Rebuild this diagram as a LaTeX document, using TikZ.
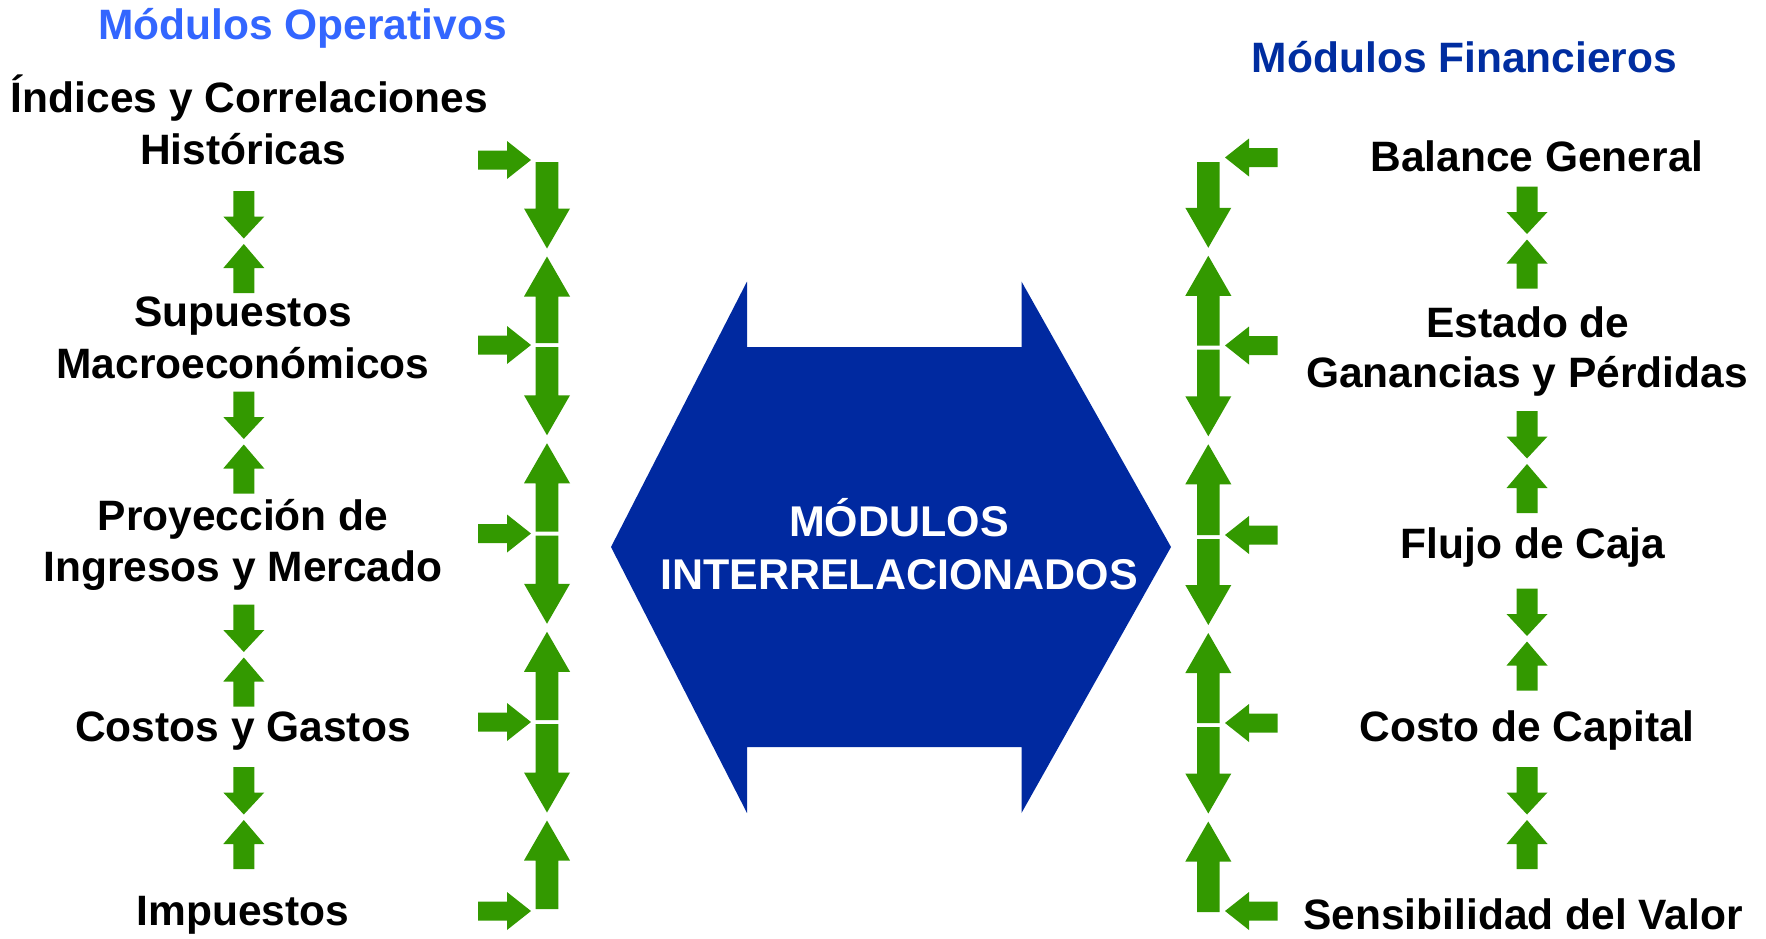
\documentclass[tikz,border=0pt]{standalone}
\usepackage{fontspec}
\setmainfont{Liberation Sans}
\definecolor{grn}{RGB}{51,153,0}
\definecolor{bigblue}{RGB}{0,41,160}
\definecolor{lblue}{RGB}{51,102,255}
\definecolor{dblue}{RGB}{0,45,160}
% vertical block arrow: x, tail y, tip y, half shaft, half head, signed head length
\newcommand{\vblk}[6]{\fill[grn] ({#1-#4},{#2}) -- ({#1-#4},{#3-(#6)}) -- ({#1-#5},{#3-(#6)}) -- ({#1},{#3}) -- ({#1+#5},{#3-(#6)}) -- ({#1+#4},{#3-(#6)}) -- ({#1+#4},{#2}) -- cycle;}
% horizontal block arrow: y, tail x, tip x, half shaft, half head, signed head length
\newcommand{\hblk}[6]{\fill[grn] ({#2},{#1-#4}) -- ({#3-(#6)},{#1-#4}) -- ({#3-(#6)},{#1-#5}) -- ({#3},{#1}) -- ({#3-(#6)},{#1+#5}) -- ({#3-(#6)},{#1+#4}) -- ({#2},{#1+#4}) -- cycle;}
\newcommand{\bigdown}[3]{\vblk{#1}{#2}{#3}{11.3}{23}{40}}
\newcommand{\bigup}[3]{\vblk{#1}{#2}{#3}{11.3}{23}{-40}}
\newcommand{\smdown}[3]{\vblk{#1}{#2}{#3}{10.5}{20.5}{22}}
\newcommand{\smup}[3]{\vblk{#1}{#2}{#3}{10.5}{20.5}{-24}}
\begin{document}
\begin{tikzpicture}[x=1pt,y=-1pt,
  txt/.style={font=\fontsize{42.5}{50}\selectfont\bfseries,inner sep=0pt,anchor=base,text=black},
  ttl/.style={txt,font=\fontsize{42.5}{50}\selectfont\bfseries},
  ctext/.style={font=\fontsize{43}{52}\selectfont\bfseries,inner sep=0pt,anchor=base,text=white}]
\useasboundingbox (0,0) rectangle (1766,938);
% central double arrow
\fill[bigblue] (611,547) -- (747,281.5) -- (747,347) -- (1021.5,347) -- (1021.5,281.5) -- (1171,547)
  -- (1021.5,813) -- (1021.5,747) -- (747,747) -- (747,813) -- cycle;
\node[ctext] (c1) at (899,536.7) {MÓDULOS};
\node[ctext] (c2) at (899,589) {INTERRELACIONADOS};
% titles
\node[ttl,text=lblue] (t1) at (302.5,39.3) {Módulos Operativos};
\node[ttl,text=dblue] (t2) at (1464.5,72.5) {Módulos Financieros};
% left texts
\node[txt] (l1a) at (249.5,112.7) {Índices y Correlaciones};
\node[txt] (l1b) at (243,164) {Históricas};
\node[txt] (l2a) at (243,326) {Supuestos};
\node[txt] (l2b) at (243,378) {Macroeconómicos};
\node[txt] (l3a) at (243,530) {Proyección de};
\node[txt] (l3b) at (243,581) {Ingresos y Mercado};
\node[txt] (l4) at (243,741) {Costos y Gastos};
\node[txt] (l5) at (243,925) {Impuestos};
% right texts
\node[txt] (r1) at (1537,171) {Balance General};
\node[txt] (r2a) at (1528,337) {Estado de};
\node[txt] (r2b) at (1527,387) {Ganancias y Pérdidas};
\node[txt] (r3) at (1533,558) {Flujo de Caja};
\node[txt] (r4) at (1527,741) {Costo de Capital};
\node[txt,text depth=0pt] (r5) at (1523,929) {Sensibilidad del Valor};
% left small arrow pairs
\foreach \cc in {241,441.5,654.5,817}{
  \smdown{243.8}{\cc-50}{\cc-2.5}
  \smup{243.8}{\cc+52}{\cc+3}
}
% right small arrow pairs
\foreach \cc in {236.5,461,638.5,817}{
  \smdown{1527}{\cc-50}{\cc-2.5}
  \smup{1527}{\cc+52}{\cc+3}
}
% left big column
\foreach \h/\n in {160/345, 345/533.5, 533.5/722, 722/911}{
  \pgfmathsetmacro{\m}{(\h+\n)/2}
  \bigdown{547}{\h+2}{\m-4}
  \bigup{547}{\n-2}{\m+4}
}
\foreach \h in {160,345,533.5,722,911}{
  \hblk{\h}{478}{531}{9.5}{19}{24}
}
% right big column
\foreach \h/\n in {158/345.5, 345.5/535, 535/723, 723/912}{
  \pgfmathsetmacro{\m}{(\h+\n)/2}
  \bigdown{1208.3}{\h+4}{\m-4}
  \bigup{1208.3}{\n}{\m+4}
}
\foreach \h in {157.5,345.5,535,723,911}{
  \hblk{\h}{1277.5}{1225}{9.5}{19}{-24}
}
\end{tikzpicture}
\end{document}
